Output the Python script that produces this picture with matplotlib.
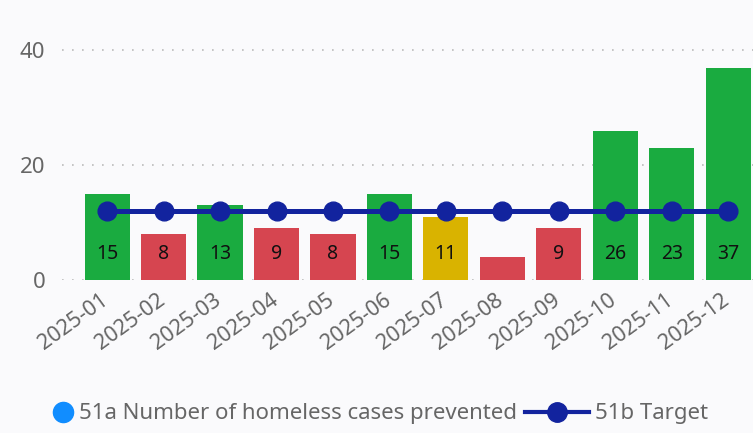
import matplotlib.pyplot as plt
import matplotlib.transforms as mtransforms
from matplotlib.lines import Line2D

plt.rcParams['font.family'] = ['Noto Sans', 'DejaVu Sans']

months = ['2025-01', '2025-02', '2025-03', '2025-04', '2025-05', '2025-06',
          '2025-07', '2025-08', '2025-09', '2025-10', '2025-11', '2025-12']
prevented = [15, 8, 13, 9, 8, 15, 11, 4, 9, 26, 23, 37]
target = [12] * 12
status = ['good', 'bad', 'good', 'bad', 'bad', 'good',
          'near', 'bad', 'bad', 'good', 'good', 'good']

status_colors = {'good': '#1AAB40', 'bad': '#D64550', 'near': '#D9B300'}
bg = '#FAFAFC'

fig = plt.figure(figsize=(7.53, 4.33), dpi=100, facecolor=bg)
ax = fig.add_axes([0.0823, 0.3533, 0.9177, 0.5834], facecolor=bg)

x = range(len(months))
ax.bar(x, prevented, width=0.8, color=[status_colors[s] for s in status], zorder=2)
ax.plot(x, target, color='#12239E', linewidth=3.6, marker='o', markersize=13.5, zorder=3)

# value labels sit at the base of each bar; skip bars too short to hold one
for i, v in enumerate(prevented):
    if v >= 6:
        ax.text(i, 4.6, str(v), ha='center', va='center', fontsize=14,
                color='#111111', zorder=4)

ax.set_xlim(-0.8, 11.44)
ax.set_ylim(0, 44)
ax.set_yticks([0, 20, 40])
ax.yaxis.grid(True, linestyle=(0, (1, 5)), color='#BBBBBB', linewidth=1.2, zorder=0)
for s in ax.spines.values():
    s.set_visible(False)
ax.tick_params(axis='both', length=0, colors='#666666', labelsize=16)
ax.tick_params(axis='y', pad=12)
ax.set_xticks(list(x))
ax.set_xticklabels(months, rotation=36, ha='right', rotation_mode='anchor',
                   fontsize=15.5)
ax.tick_params(axis='x', pad=7)
# nudge the slanted month labels a little left of the bar centres
shift = mtransforms.ScaledTranslation(-7 / 100, 0, fig.dpi_scale_trans)
for lbl in ax.get_xticklabels():
    lbl.set_transform(lbl.get_transform() + shift)

# two legends side by side so each handle can have its own width
leg_kw = dict(frameon=False, fontsize=16, labelcolor='#666666',
              borderpad=0, borderaxespad=0)
leg1 = fig.legend([Line2D([], [], linestyle='none', marker='o', markersize=14.5,
                          color='#118DFF')],
                  ['51a Number of homeless cases prevented'],
                  loc='center right', bbox_to_anchor=(517 / 753, 0.044),
                  handlelength=1.0, handletextpad=0.2, **leg_kw)
leg2 = fig.legend([Line2D([], [], color='#12239E', linewidth=3, marker='o',
                          markersize=14)],
                  ['51b Target'],
                  loc='center left', bbox_to_anchor=(525 / 753, 0.044),
                  handlelength=2.9, handletextpad=0.25, **leg_kw)

fig.savefig('out.png', dpi=100, facecolor=bg)
